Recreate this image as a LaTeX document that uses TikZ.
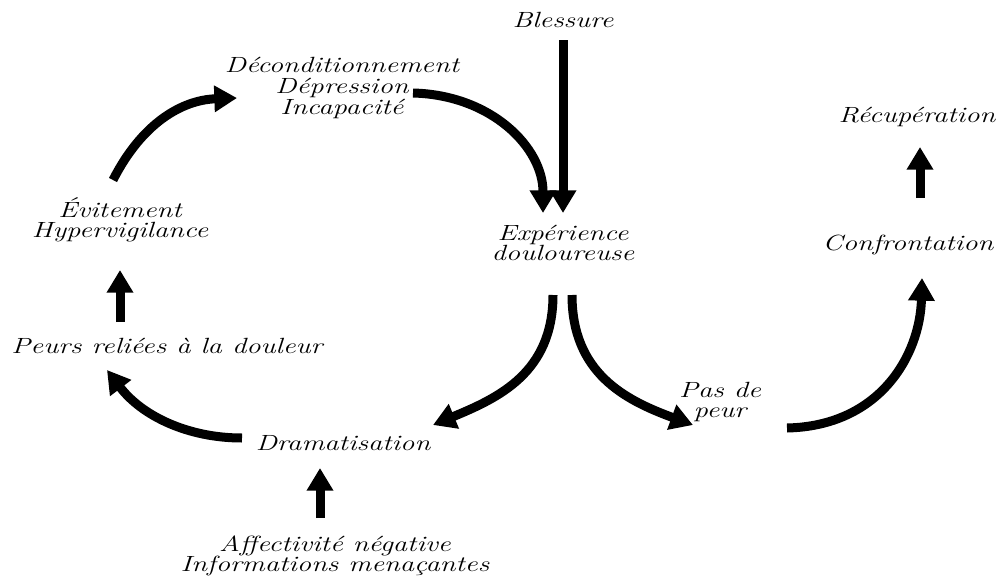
\documentclass[tikz,border=0pt]{standalone}
\usepackage{fontspec}
\setmainfont{Latin Modern Roman}[FakeStretch=1.3]
\usetikzlibrary{arrows.meta,calc}
\begin{document}
\begin{tikzpicture}[x=0.75pt,y=-0.75pt,
  lbl/.style={font=\itshape\fontsize{16.5}{15.4}\selectfont, align=center, inner sep=0pt},
  arr/.style={line width=6.75pt, -{Triangle[length=17pt,width=19pt]}}]
\useasboundingbox (0,0) rectangle (1003,578);
\node[lbl] (bl) at (563,20) {Blessure};
\node[lbl] (deco) at (342,88) {Déconditionnement\\Dépression\\Incapacité};
\node[lbl] (exp) at (563,243) {Expérience\\douloureuse};
\node[lbl] (recup) at (917,117) {Récupération};
\node[lbl] (conf) at (908,245) {Confrontation};
\node[lbl] (evit) at (120,220) {Évitement\\Hypervigilance};
\node[lbl] (peurs) at (167,346) {Peurs reliées à la douleur};
\node[lbl] (pas) at (720,402) {Pas de\\peur};
\node[lbl] (drama) at (343,443) {Dramatisation};
\node[lbl] (aff) at (335,556) {Affectivité négative\\Informations menaçantes};

\draw[arr] ($(bl)+(0,20)$) -- ($(exp)+(0,-30)$);
\draw[arr] ($(deco)+(71,5)$) .. controls ($(deco)+(150,7)$) and ($(exp)+(-20,-95)$) .. ($(exp)+(-20,-30)$);
\draw[arr] ($(evit)+(-7,-40)$) .. controls ($(evit)+(22,-97)$) and ($(deco)+(-160,12)$) .. ($(deco)+(-105,10)$);
\draw[arr] ($(peurs)+(-47,-24)$) -- ($(evit)+(0,50)$);
\draw[arr] ($(drama)+(-101,-5)$) .. controls ($(drama)+(-155,-5)$) and ($(peurs)+(-25,70)$) .. ($(peurs)+(-60,24)$);
\draw[arr] ($(aff)+(-15,-38)$) -- ($(drama)+(-23,25)$);
\draw[arr] ($(exp)+(-10,52)$) .. controls ($(exp)+(-10,130)$) and ($(drama)+(155,-45)$) .. ($(drama)+(90,-18)$);
\draw[arr] ($(exp)+(9,52)$) .. controls ($(exp)+(9,130)$) and ($(pas)+(-95,-2)$) .. ($(pas)+(-27,23)$);
\draw[arr] ($(pas)+(67,26)$) .. controls ($(pas)+(160,24)$) and ($(conf)+(12,110)$) .. ($(conf)+(14,33)$);
\draw[arr] ($(conf)+(12,-47)$) -- ($(recup)+(3,30)$);
\end{tikzpicture}
\end{document}
